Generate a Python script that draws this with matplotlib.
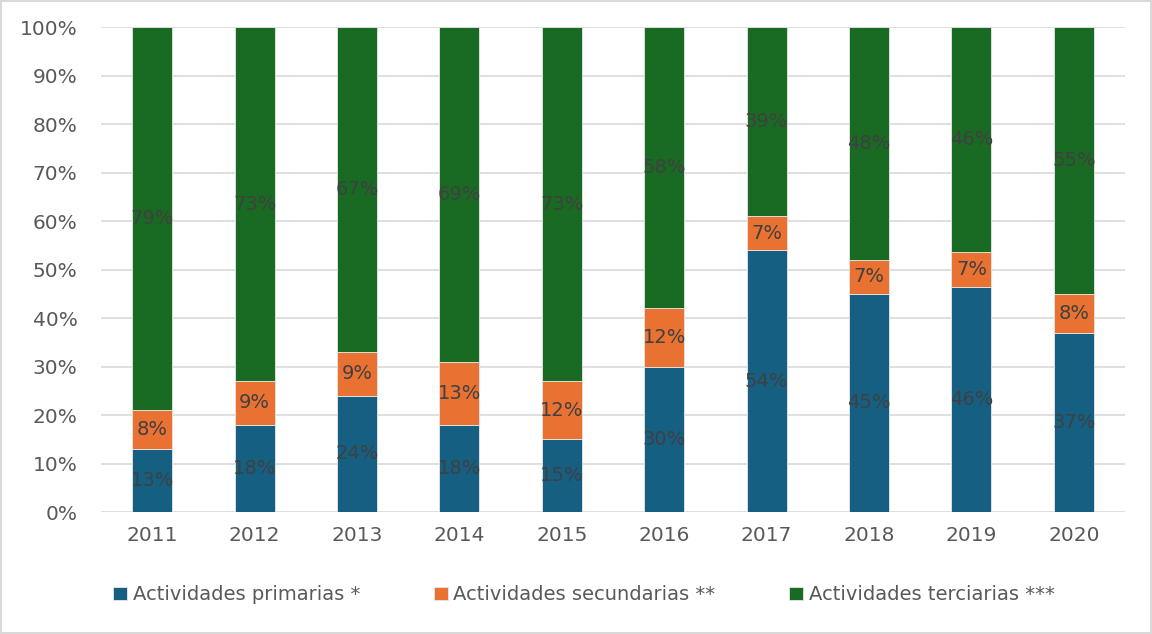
import numpy as np
import matplotlib.pyplot as plt

# Data (shares in %, stacked to 100)
years = ['2011', '2012', '2013', '2014', '2015', '2016', '2017', '2018', '2019', '2020']
primarias = [13, 18, 24, 18, 15, 30, 54, 45, 46.4, 37]
secundarias = [8, 9, 9, 13, 12, 12, 7, 7, 7.2, 8]
terciarias = [79, 73, 67, 69, 73, 58, 39, 48, 46.4, 55]
series_names = ['Actividades primarias *', 'Actividades secundarias **', 'Actividades terciarias ***']
colors = ['#156082', '#E97132', '#196B24']

fig = plt.figure(figsize=(11.52, 6.34), dpi=100)
fig.patch.set_edgecolor('#d9d9d9')
fig.patch.set_linewidth(1.5)
ax = fig.add_axes([0.0877, 0.1924, 0.8889, 0.7646])

x = np.arange(len(years))
bottom = np.zeros(len(years))
for vals, name, col in zip([primarias, secundarias, terciarias], series_names, colors):
    vals = np.array(vals, dtype=float)
    bars = ax.bar(x, vals, 0.39, bottom=bottom, color=col, label=name,
                  edgecolor='#e8e8e8', linewidth=0.6, zorder=3)
    ax.bar_label(bars, labels=[f'{round(v)}%' for v in vals], label_type='center',
                 fontsize=14, color='#404040')
    bottom += vals

ax.set_xlim(-0.5, len(years) - 0.5)
ax.set_ylim(0, 100)
ax.set_yticks(np.arange(0, 101, 10))
ax.set_yticklabels([f'{v}%' for v in range(0, 101, 10)])
ax.set_xticks(x)
ax.set_xticklabels(years)
ax.tick_params(axis='both', length=0, labelsize=14.5, labelcolor='#595959')
ax.tick_params(axis='y', pad=17)
ax.tick_params(axis='x', pad=10)
ax.grid(axis='y', color='#d9d9d9', linewidth=1.2, zorder=0)
for s in ax.spines.values():
    s.set_visible(False)

fig.legend(loc='center', bbox_to_anchor=(0.507, 0.062), ncol=3, frameon=False,
           fontsize=14, labelcolor='#595959', handlelength=0.7, handleheight=0.7,
           handletextpad=0.3, columnspacing=3.8)

fig.savefig('out.png', dpi=100)
